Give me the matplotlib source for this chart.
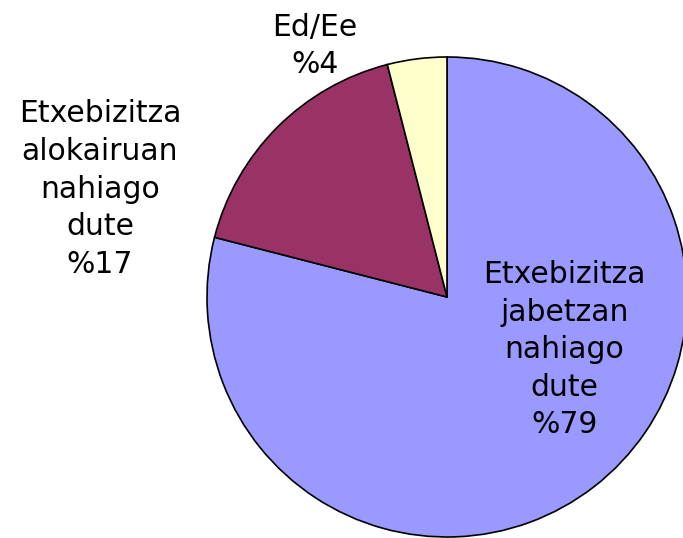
import matplotlib.pyplot as plt

# data
labels = ["Etxebizitza\njabetzan\nnahiago\ndute\n%79",
          "Etxebizitza\nalokairuan\nnahiago\ndute\n%17",
          "Ed/Ee\n%4"]
values = [79, 17, 4]
colors = ["#9999FF", "#993366", "#FFFFCC"]
label_pos = [(0.49, -0.22), (-1.446, 0.45), (-0.55, 1.045)]

fig = plt.figure(figsize=(6.83, 5.38), dpi=100)
ax = fig.add_axes([207 / 683, 1 / 538, 480 / 683, 480 / 538])
ax.pie(values, colors=colors, startangle=90, counterclock=False, radius=1,
       wedgeprops=dict(edgecolor="black", linewidth=1.2))
ax.set_xlim(-1, 1)
ax.set_ylim(-1, 1)
ax.set_aspect("equal")
ax.axis("off")

for lab, (x, y) in zip(labels, label_pos):
    ax.text(x, y, lab, ha="center", va="center", fontsize=21.5,
            linespacing=1.37, multialignment="center", clip_on=False)

fig.savefig("out.png", dpi=100)
